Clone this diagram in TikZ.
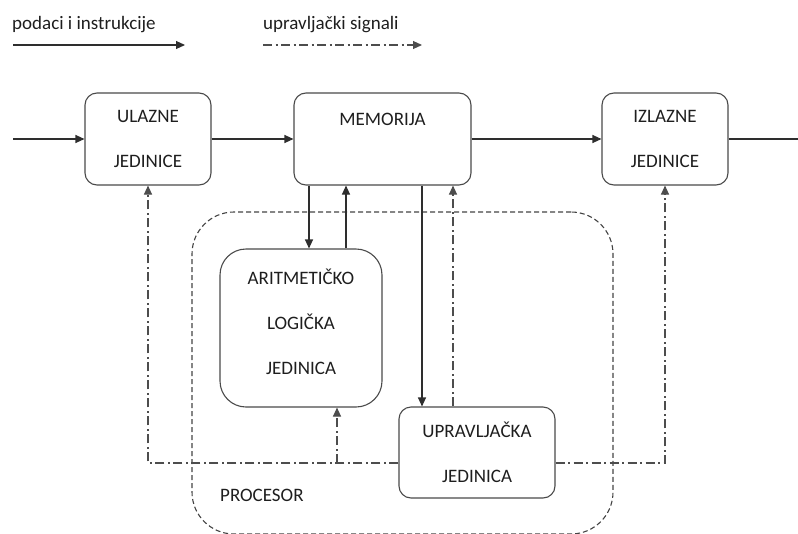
\documentclass[tikz,border=0pt]{standalone}
\usepackage{fontspec}
\setmainfont{Carlito}
\usetikzlibrary{arrows.meta,calc}
\definecolor{linec}{HTML}{2E2E2E}
\definecolor{boxc}{HTML}{4A4A4A}
\definecolor{txtc}{HTML}{1E1E1E}
\tikzset{
  unit/.style={draw=boxc, line width=1.1pt, rounded corners=12pt, inner sep=0pt,
    align=center, text=txtc, font=\fontsize{19}{45}\selectfont},
  lbl/.style={text=txtc, inner sep=0pt, align=center, font=\fontsize{19}{45}\selectfont},
  arr/.style={draw=linec, line width=1.1pt, -{Triangle[length=9pt,width=8pt]}},
  plain/.style={draw=linec, line width=1.1pt},
  ctrl/.style={draw=linec!85, line width=1.1pt, dash pattern=on 9pt off 3.5pt on 2pt off 3.5pt},
  ctrlarr/.style={ctrl, -{Triangle[length=9pt,width=8pt]}},
  procbox/.style={draw=linec!90, line width=1.1pt, dash pattern=on 5pt off 3pt, rounded corners=42pt}
}
\begin{document}
\begin{tikzpicture}[x=1pt,y=-1pt]
\useasboundingbox (0,0) rectangle (798,533);
\clip (0,0) rectangle (798,533);
% legend
\node[lbl, anchor=base west] (lg1) at (12,29) {podaci i instrukcije};
\node[lbl, anchor=base west] (lg2) at (263,29) {upravljački signali};
\coordinate (l1s) at (13,45);
\coordinate (l1e) at (185,45);
\coordinate (l2s) at (263,45);
\coordinate (l2e) at (422,45);
\draw[arr] (l1s) -- (l1e);
\draw[ctrlarr] (l2s) -- (l2e);
% processor
\node[procbox, minimum width=421pt, minimum height=322pt, inner sep=0pt] (proc) at (402.5,373) {};
\node[lbl, anchor=west] (proclbl) at (220,495) {PROCESOR};
% units
\node[unit, minimum width=126pt, minimum height=92pt] (ul) at (148,139) {ULAZNE\\JEDINICE};
\node[unit, minimum width=177pt, minimum height=92pt] (mem) at (382.5,139) {};
\node[lbl] (memlbl) at (382.5,119) {MEMORIJA};
\node[unit, minimum width=126pt, minimum height=92pt] (iz) at (665,139) {IZLAZNE\\JEDINICE};
\node[unit, rounded corners=26pt, minimum width=162pt, minimum height=158pt] (alu) at (301,328) {};
\node[lbl] (alulbl) at (301,322) {ARITMETIČKO\\LOGIČKA\\JEDINICA};
\node[unit, minimum width=156pt, minimum height=91pt] (upr) at (477,452.5) {UPRAVLJAČKA\\JEDINICA};
% data flow
\coordinate (in) at (13,139);
\coordinate (out) at (798,139);
\draw[arr] (in) -- (ul.west);
\draw[arr] (ul.east) -- (mem.west);
\draw[arr] (mem.east) -- (iz.west);
\draw[plain] (iz.east) -- (out);
\coordinate (x1) at (309,0);
\coordinate (x2) at (346,0);
\coordinate (x3) at (422,0);
\coordinate (x4) at (453,0);
\coordinate (xb) at (337,0);
\coordinate (cy) at (0,463);
\draw[arr] (mem.south -| x1) -- (alu.north -| x1);
\draw[arr] (alu.north -| x2) -- (mem.south -| x2);
\draw[arr] (mem.south -| x3) -- (upr.north -| x3);
\draw[ctrlarr] (upr.north -| x4) -- (mem.south -| x4);
% control signals
\draw[ctrlarr] (upr.west |- cy) -| (ul.south);
\draw[ctrlarr] (xb |- cy) -- (alu.south -| xb);
\draw[ctrlarr] (upr.east |- cy) -| (iz.south);
\end{tikzpicture}
\end{document}
